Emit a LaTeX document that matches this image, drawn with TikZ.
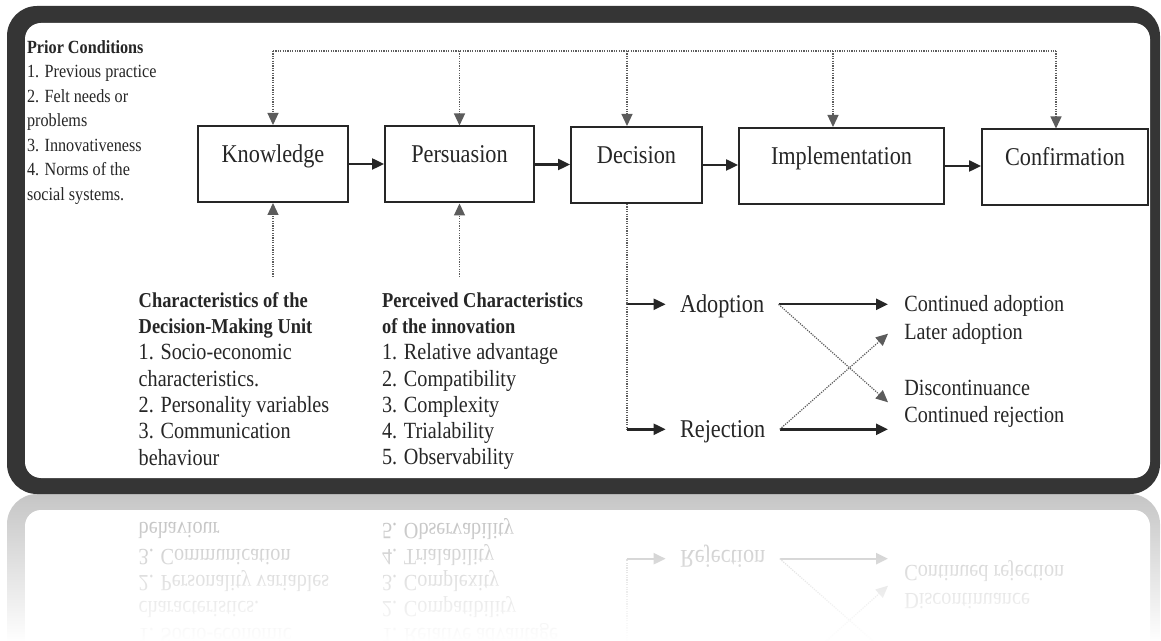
\documentclass[tikz,border=0pt]{standalone}
\usepackage{fontspec}
\setmainfont{Liberation Serif}[FakeStretch=0.87]
\usetikzlibrary{arrows.meta,positioning,calc,fadings}
\definecolor{inkcol}{HTML}{262626}
\definecolor{framecol}{HTML}{353535}
\tikzfading[name=reflfade, top color=transparent!100, bottom color=transparent!0]

\newcommand{\blockhead}[1]{{\fontsize{10.6}{13.15}\selectfont\bfseries #1}}

% dark rounded frame round the whole model
\newcommand{\drawframe}{%
  \fill[framecol, rounded corners=15pt] (7,6) rectangle (1160,494);
  \fill[white, rounded corners=8pt] (25,23) rectangle (1150,478);
}

% everything below the five stages (drawn twice: once as is, once mirrored)
\newcommand{\lowerpart}[1]{%
  \node[listtext, anchor=north west] (#1unit) at (138.3,292)
    {\blockhead{Characteristics of the}\\\blockhead{Decision-Making Unit}\\
     1. Socio-economic\\characteristics.\\2. Personality variables\\
     3. Communication\\behaviour};
  \node[listtext, anchor=north west] (#1perc) at (381.7,292)
    {\blockhead{Perceived Characteristics}\\\blockhead{of the innovation}\\
     1. Relative advantage\\2. Compatibility\\3. Complexity\\
     4. Trialability\\5. Observability};
  \coordinate (#1d1) at (627,304.3);
  \coordinate (#1d2) at (627,429.3);
  \node[choice] (#1adopt) at (665.6,304.3) {Adoption};
  \node[choice] (#1rej)   at (665.6,429.3) {Rejection};
  \node[outcome] (#1cadopt)  at (888,311.7) {Continued adoption};
  \node[outcome] (#1later)   at (888,339.3) {Later adoption};
  \node[outcome] (#1discont) at (888,395)   {Discontinuance};
  \node[outcome] (#1crej)    at (888,422.7) {Continued rejection};
  \draw[fb] (#1d1) -- (#1d2);
  \draw[flow, ->] (#1d1) -- (#1adopt);
  \draw[flow, ->] (#1d2) -- (#1rej);
  \draw[flow, ->] (#1adopt.east) -- (#1adopt.east -| #1cadopt.west);
  \draw[flow, ->] (#1rej.east) -- (#1rej.east -| #1crej.west);
  \draw[fb, ->] (#1adopt.east) -- ($(#1discont.west)!0.5!(#1crej.west)$);
  \draw[fb, ->] (#1rej.east) -- (#1later.west);
}

\begin{document}
\begin{tikzpicture}[x=0.5pt, y=-0.5pt,
    >={Triangle[length=6pt, width=5.5pt]},
    stage/.style={draw=inkcol, line width=1pt, fill=white, text=inkcol,
                  minimum height=38pt, text height=9pt, text depth=10.5pt,
                  font=\fontsize{12.8}{15}\selectfont},
    choice/.style={anchor=west, inner xsep=7pt, inner ysep=0pt, text=inkcol,
                   text height=10pt, text depth=2pt,
                   font=\fontsize{12.8}{15}\selectfont},
    outcome/.style={anchor=base west, inner xsep=8pt, inner ysep=0pt,
                    text=inkcol, font=\fontsize{11.6}{14}\selectfont},
    listtext/.style={align=left, inner sep=0pt, text=inkcol,
                     font=\fontsize{11.6}{13.15}\selectfont},
    flow/.style={draw=inkcol, line width=1.2pt},
    fb/.style={draw=inkcol!75, line width=0.6pt,
               dash pattern=on 0.6pt off 0.6pt}]

  \useasboundingbox (0,0) rectangle (1161,641);
  \clip (0,0) rectangle (1161,641);

  % ── Reflection under the frame ─────────────────────────────────────────
  \begin{scope}[shift={(0,988)}, yscale=-1, transform shape]
    \colorlet{framecol}{gray!45}
    \colorlet{inkcol}{gray!55}
    \drawframe
    \lowerpart{r}
  \end{scope}
  \fill[white, path fading=reflfade] (0,494) rectangle (1161,641);

  % ── Frame ──────────────────────────────────────────────────────────────
  \drawframe

  % ── Prior conditions ───────────────────────────────────────────────────
  \node[listtext, anchor=north west, font=\fontsize{9.3}{12.25}\selectfont]
    (prior) at (26.7,40)
    {\textbf{Prior Conditions}\\1. Previous practice\\2. Felt needs or\\
     problems\\3. Innovativeness\\4. Norms of the\\social systems.};

  % ── The five stages ────────────────────────────────────────────────────
  \node[stage, minimum width=75pt]   (know) at (273,164)    {Knowledge};
  \node[stage, minimum width=74.5pt] (pers) at (459.5,164.5) {Persuasion};
  \node[stage, minimum width=65.5pt] (dec)  at (636.5,165)  {Decision};
  \node[stage, minimum width=102.5pt] (impl) at (841.5,166) {Implementation};
  \node[stage, minimum width=83pt]   (conf) at (1065,167.5) {Confirmation};

  \draw[flow, ->] (know.east) -- (know.east -| pers.west);
  \draw[flow, ->] (pers.east) -- (pers.east -| dec.west);
  \draw[flow, ->] (dec.east)  -- (dec.east -| impl.west);
  \draw[flow, ->] (impl.east) -- (impl.east -| conf.west);

  % ── Feedback line over the stages ──────────────────────────────────────
  \coordinate (t1) at (273,51);
  \coordinate (t2) at (459.5,51);
  \coordinate (t3) at (627,51);
  \coordinate (t4) at (833,51);
  \coordinate (t5) at (1056,51);
  \draw[fb] (t1) -- (t5);
  \draw[fb, ->] (t1) -- (t1 |- know.north);
  \draw[fb, ->] (t2) -- (t2 |- pers.north);
  \draw[fb, ->] (t3) -- (t3 |- dec.north);
  \draw[fb, ->] (t4) -- (t4 |- impl.north);
  \draw[fb, ->] (t5) -- (t5 |- conf.north);

  % ── Lower part ─────────────────────────────────────────────────────────
  \lowerpart{}
  \coordinate (b1) at (273,277);
  \coordinate (b2) at (459.5,277);
  \draw[fb, ->] (b1) -- (b1 |- know.south);
  \draw[fb, ->] (b2) -- (b2 |- pers.south);
  \draw[fb] (d1 |- dec.south) -- (d1);

\end{tikzpicture}
\end{document}
